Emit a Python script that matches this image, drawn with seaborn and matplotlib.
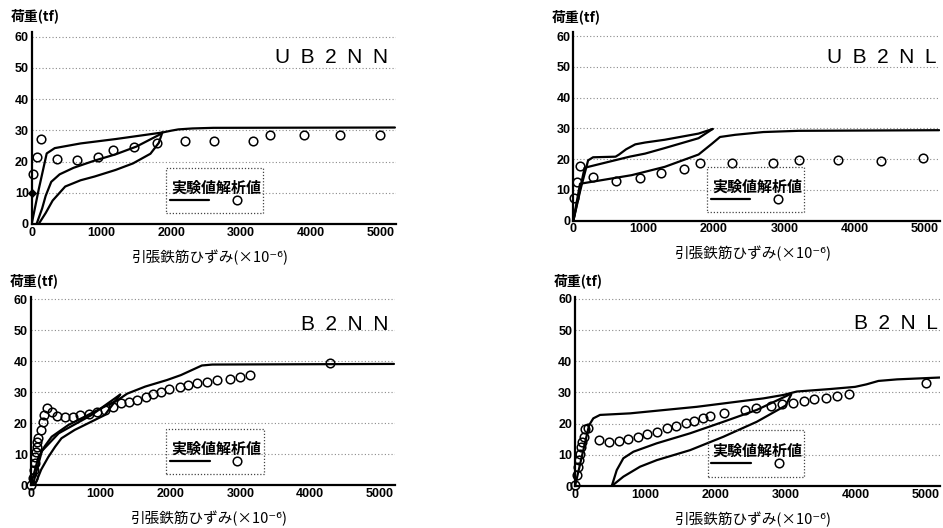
import matplotlib
matplotlib.use("Agg")
import matplotlib.pyplot as plt
from matplotlib.lines import Line2D
from matplotlib.patches import Rectangle
import seaborn as sns

# ---------------- data ----------------
panel_names = ["U\u2002B\u20022\u2002N\u2002N", "U\u2002B\u20022\u2002N\u2002L",
               "B\u20022\u2002N\u2002N", "B\u20022\u2002N\u2002L"]

# UB2NN
ub2nn_env_x = [0, 100, 215, 330, 700, 1200, 1870, 2000, 2100, 2300, 2600, 5200]
ub2nn_env_y = [0, 11, 22.6, 24.3, 25.8, 27.2, 29.3, 29.9, 30.3, 30.6, 30.8, 30.9]
ub2nn_mid_x = [70, 150, 200, 280, 400, 600, 900, 1200, 1500, 1820, 1870]
ub2nn_mid_y = [0, 5, 9, 13.5, 15.9, 18, 20.3, 22.3, 24.8, 28.5, 29.3]
ub2nn_low_x = [100, 200, 300, 480, 700, 900, 1200, 1450, 1700, 1820, 1870]
ub2nn_low_y = [0, 3.5, 7.5, 12, 14, 15.2, 17.3, 19.4, 22.5, 26, 29.3]
ub2nn_exp_x = [23, 72, 129, 368, 655, 956, 1157, 1469, 1794, 2191, 2607, 3167, 3407, 3899, 4417, 4986]
ub2nn_exp_y = [15.9, 21.6, 27.1, 20.8, 20.5, 21.6, 23.8, 24.8, 25.8, 26.6, 26.6, 26.6, 28.5, 28.5, 28.5, 28.5]
ub2nn_pt_x = [0]
ub2nn_pt_y = [10]

# UB2NL
ub2nl_env_x = [0, 100, 210, 280, 600, 650, 750, 880, 1020, 1300, 1780, 1980]
ub2nl_env_y = [0, 10, 19.6, 20.6, 20.8, 21.5, 23.2, 24.8, 25.4, 26.3, 28.3, 29.8]
ub2nl_mid_x = [0, 160, 800, 1020, 1300, 1780, 1980]
ub2nl_mid_y = [0, 17.2, 20.8, 21.8, 23.6, 26.8, 29.8]
ub2nl_low_x = [0, 95, 830, 1300, 1780, 1970, 2085, 2300, 2700, 3200, 5200]
ub2nl_low_y = [0, 12, 14.8, 17.5, 21.5, 25, 27.2, 27.9, 28.8, 29.2, 29.4]
ub2nl_exp_x = [14, 55, 95, 284, 607, 948, 1247, 1574, 1801, 2252, 2843, 3204, 3768, 4370, 4967]
ub2nl_exp_y = [7.4, 12.7, 17.8, 14.3, 12.9, 13.8, 15.4, 16.7, 18.6, 18.8, 18.8, 19.7, 19.7, 19.5, 20.5]

# B2NN
b2nn_env_x = [0, 50, 110, 200, 300, 540, 870, 1250, 1380, 1640, 1950, 2150, 2450, 2600, 5200]
b2nn_env_y = [0, 4, 9, 12.5, 15.6, 19.4, 23.2, 27.5, 29.5, 31.8, 33.9, 35.5, 38.6, 38.9, 39.1]
b2nn_mid_x = [30, 160, 400, 870, 1280]
b2nn_mid_y = [0, 11, 16.7, 22.6, 29.2]
b2nn_low_x = [60, 150, 250, 350, 440, 630, 1060, 1280]
b2nn_low_y = [0, 5, 9, 12.4, 15.1, 17.8, 22.6, 29.2]
b2nn_exp_x = [0, 37, 49, 55, 68, 77, 85, 96, 110, 143, 172, 190, 229, 300, 381, 491, 610, 706, 839,
              944, 1064, 1182, 1288, 1407, 1517, 1646, 1755, 1861, 1980, 2137, 2256, 2385, 2528,
              2671, 2853, 2996, 3139, 4285]
b2nn_exp_y = [0, 2.2, 4.9, 7, 9.2, 10.8, 12.4, 14, 15.1, 17.8, 20.5, 22.6, 24.8, 23.7, 22.4, 21.9,
              22.1, 22.6, 22.9, 23.7, 24.2, 25.3, 26.4, 26.9, 27.5, 28.5, 29.3, 30.1, 31, 31.8, 32.3,
              32.9, 33.2, 33.8, 34.2, 35, 35.5, 39.5]

# B2NL
b2nl_env_x = [0, 200, 260, 356, 783, 1734, 2682, 2967, 3158, 3632, 3989, 4150, 4321, 4586, 5200]
b2nl_env_y = [0, 19.5, 21.7, 22.8, 23.3, 25.4, 28.1, 29.2, 30.3, 31.1, 31.8, 32.6, 33.7, 34.2, 34.8]
b2nl_mid_x = [523, 594, 688, 831, 1164, 1638, 2113, 2588, 3060]
b2nl_mid_y = [0, 5.1, 8.9, 11, 13.7, 16.9, 20.6, 24.4, 29.4]
b2nl_low_x = [523, 688, 926, 1164, 1638, 2113, 2588, 3000, 3080]
b2nl_low_y = [0, 3, 6.2, 8.3, 11.5, 15.8, 20.6, 25.8, 29.4]
b2nl_exp_x = [0, 24, 38, 57, 71, 85, 104, 128, 142, 190, 346, 484, 631, 759, 893, 1030, 1172, 1315,
              1434, 1581, 1699, 1819, 1923, 2123, 2422, 2574, 2788, 2944, 3110, 3262, 3409, 3575,
              3728, 3903, 5000]
b2nl_exp_y = [0.3, 3.5, 6.1, 8.2, 10.3, 12.5, 14, 15.8, 18.3, 18.5, 14.8, 14, 14.5, 15.1, 15.8, 16.6,
              17.4, 18.5, 19.2, 20.1, 21, 21.7, 22.6, 23.5, 24.4, 24.9, 25.7, 26.2, 26.7, 27.3, 27.8,
              28.3, 28.9, 29.4, 32.9]

y_ticks = [0, 10, 20, 30, 40, 50, 60]
x_ticks = [0, 1000, 2000, 3000, 4000, 5000]
y_label = "荷重(tf)"
x_label = "引張鉄筋ひずみ(×10⁻⁶)"
legend_title = "実験値解析値"

# ---------------- style ----------------
sns.set_theme(style="white")
plt.rcParams["font.family"] = ["Liberation Sans", "DejaVu Sans"]
cjk = ["Noto Sans CJK JP", "DejaVu Sans"]

fig = plt.figure(figsize=(9.43, 5.28), dpi=100)

panels = [
    dict(rect=[0.0336, 0.5758, 0.3863, 0.3636], xmax=5215, ymax=61.5,
         lines=[(ub2nn_env_x, ub2nn_env_y), (ub2nn_mid_x, ub2nn_mid_y), (ub2nn_low_x, ub2nn_low_y)],
         exp=(ub2nn_exp_x, ub2nn_exp_y), pt=(ub2nn_pt_x, ub2nn_pt_y),
         box=(0.368, 0.056, 0.636, 0.29), title_pos=(0.979, 0.837)),
    dict(rect=[0.6080, 0.5820, 0.3889, 0.3568], xmax=5213, ymax=61.2,
         lines=[(ub2nl_env_x, ub2nl_env_y), (ub2nl_mid_x, ub2nl_mid_y), (ub2nl_low_x, ub2nl_low_y)],
         exp=(ub2nl_exp_x, ub2nl_exp_y), pt=None,
         box=(0.364, 0.045, 0.629, 0.287), title_pos=(0.991, 0.835)),
    dict(rect=[0.0326, 0.0814, 0.3863, 0.3566], xmax=5215, ymax=60.8,
         lines=[(b2nn_env_x, b2nn_env_y), (b2nn_mid_x, b2nn_mid_y), (b2nn_low_x, b2nn_low_y)],
         exp=(b2nn_exp_x, b2nn_exp_y), pt=None,
         box=(0.371, 0.057, 0.639, 0.297), title_pos=(0.982, 0.823)),
    dict(rect=[0.6098, 0.0795, 0.3871, 0.3585], xmax=5199, ymax=60.7,
         lines=[(b2nl_env_x, b2nl_env_y), (b2nl_mid_x, b2nl_mid_y), (b2nl_low_x, b2nl_low_y)],
         exp=(b2nl_exp_x, b2nl_exp_y), pt=None,
         box=(0.364, 0.046, 0.627, 0.296), title_pos=(0.995, 0.829)),
]

for name, p in zip(panel_names, panels):
    ax = fig.add_axes(p["rect"])
    ax.set_xlim(0, p["xmax"])
    ax.set_ylim(0, p["ymax"])
    ax.set_facecolor("white")

    for yv in y_ticks[1:]:
        ax.axhline(yv, color="#8a8a8a", lw=0.8, ls=(0, (1, 2)), zorder=0)

    for lx, ly in p["lines"]:
        sns.lineplot(x=lx, y=ly, sort=False, estimator=None, color="black", lw=1.6, ax=ax, zorder=3)

    ex, ey = p["exp"]
    sns.lineplot(x=ex, y=ey, sort=False, estimator=None, ax=ax, linestyle="", marker="o",
                 ms=6.2, mfc="none", mec="black", mew=1.1, color="black", zorder=4, clip_on=False)
    if p["pt"] is not None:
        sns.lineplot(x=p["pt"][0], y=p["pt"][1], sort=False, estimator=None, ax=ax, linestyle="",
                     marker="D", ms=4.5, mfc="black", mec="black", color="black", zorder=5, clip_on=False)

    for s in ["top", "right"]:
        ax.spines[s].set_visible(False)
    for s in ["left", "bottom"]:
        ax.spines[s].set_color("black")
        ax.spines[s].set_linewidth(1.6)
    ax.set_xticks(x_ticks)
    ax.set_yticks(y_ticks)
    ax.tick_params(axis="both", direction="in", length=4, width=1.0, color="black",
                   labelsize=9, pad=2, labelcolor="black")
    for lab in ax.get_xticklabels() + ax.get_yticklabels():
        lab.set_fontweight("bold")
    ax.set_xlabel("")
    ax.set_ylabel("")
    ax.grid(False)

    # panel title
    ax.text(p["title_pos"][0], p["title_pos"][1], name, transform=ax.transAxes,
            ha="right", va="baseline", fontsize=15, color="black")
    # axis labels
    ax.text(-0.058, 1.085, y_label, transform=ax.transAxes, ha="left", va="center",
            fontsize=10, fontweight="bold", family=cjk, color="black")
    ax.text(0.49, -0.175, x_label, transform=ax.transAxes, ha="center", va="center",
            fontsize=10.5, family=cjk, color="black")

    # legend box
    x0, y0, x1, y1 = p["box"]
    ax.add_patch(Rectangle((x0, y0), x1 - x0, y1 - y0, transform=ax.transAxes, fill=False,
                           ec="#444444", lw=0.9, ls=(0, (1, 1.5)), zorder=6))
    cx = (x0 + x1) / 2
    h = y1 - y0
    ax.text(cx + 0.004, y0 + 0.56 * h, legend_title, transform=ax.transAxes, ha="center",
            va="center", fontsize=10.8, fontweight="bold", family=cjk, color="black", zorder=7)
    handles = [Line2D([], [], color="black", lw=1.6),
               Line2D([], [], color="black", ls="", marker="o", ms=6.2, mfc="none", mew=1.1)]
    ax.legend(handles=handles, labels=["", ""], ncol=2, frameon=False, loc="center",
              bbox_to_anchor=(cx - 0.003, y0 + 0.27 * h), handlelength=2.7, handletextpad=0,
              columnspacing=0.55, borderpad=0, borderaxespad=0, fontsize=10.5)

fig.savefig("out.png", dpi=100, facecolor="white")
